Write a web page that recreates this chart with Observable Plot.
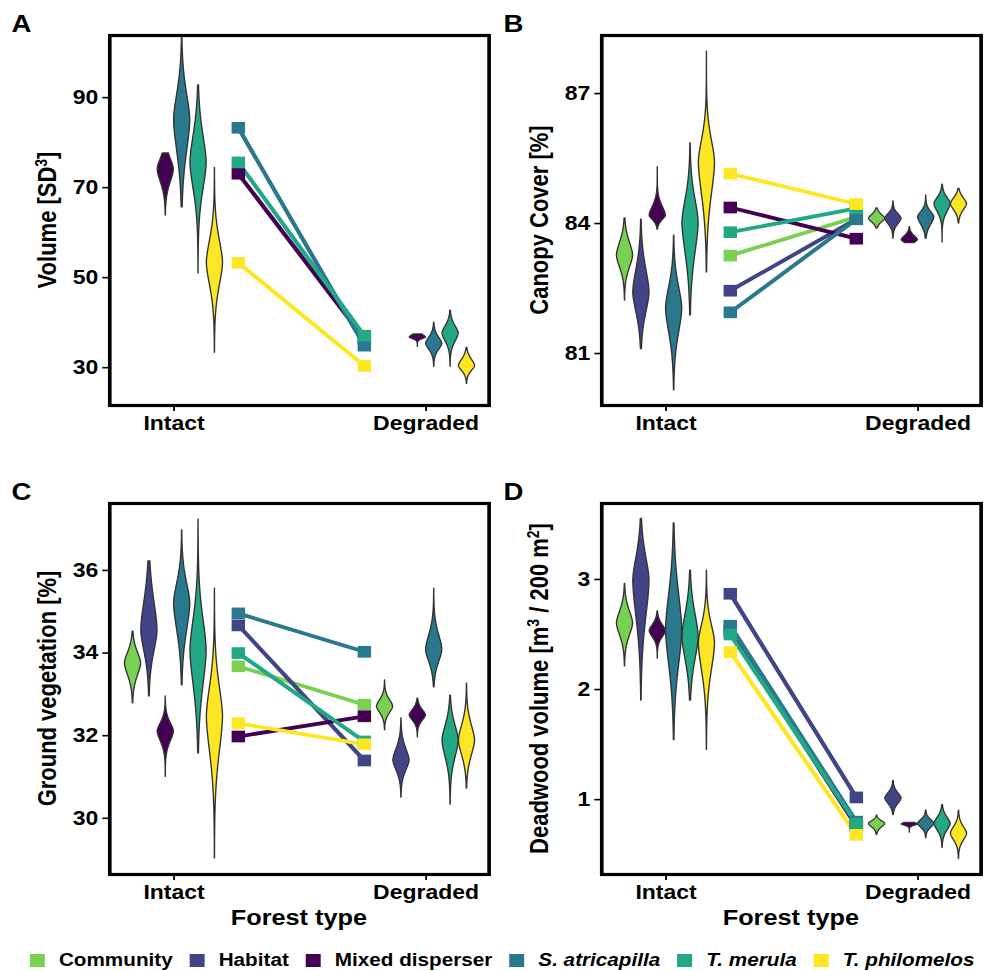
<!DOCTYPE html>
<html>
<head>
<meta charset="utf-8">
<script src="https://cdn.jsdelivr.net/npm/d3@7"></script>
<script src="https://cdn.jsdelivr.net/npm/@observablehq/plot@0.6"></script>
<style>
  html, body { margin: 0; padding: 0; background: #fff; }
  #figure {
    position: relative; width: 856px; height: 971px;
    transform: scaleX(1.1495); transform-origin: 0 0;
    font-family: "Liberation Sans", Arial, sans-serif; color: #000;
  }
  .panel { position: absolute; }
  #legend {
    position: absolute; left: 9px; top: 951px; width: 856px; height: 18px;
    display: flex; justify-content: center; align-items: center;
    font-weight: bold; font-size: 18px; line-height: 18px;
  }
  .item { display: flex; align-items: center; margin: 0 7.5px; white-space: nowrap; }
  .key { width: 13px; height: 13px; margin-right: 12px; }
  .it { font-style: italic; }
</style>
</head>
<body>
<div id="figure"></div>
<script>
// Groups, in legend and dodge order
const groups = ["Community", "Habitat", "Mixed disperser", "S. atricapilla", "T. merula", "T. philomelos"];
const italicGroups = ["S. atricapilla", "T. merula", "T. philomelos"];
const forestTypes = ["Intact", "Degraded"];
const palette = ["#7AD151", "#414487", "#440154", "#2A788E", "#22A884", "#FDE725"];

// Group means per forest type (null = group not modelled for that response)
const volumeMeanIntact     = [null, null, 73.1, 83.3, 75.6, 53.3];
const volumeMeanDegraded   = [null, null, 36.4, 34.9, 37.1, 30.4];
const canopyMeanIntact     = [83.26, 82.45, 84.37, 81.95, 83.8, 85.15];
const canopyMeanDegraded   = [84.15, 84.1, 83.65, 84.1, 84.35, 84.45];
const groundMeanIntact     = [33.68, 34.67, 31.98, 34.96, 34.0, 32.3];
const groundMeanDegraded   = [32.75, 31.4, 32.47, 34.03, 31.86, 31.79];
const deadwoodMeanIntact   = [2.57, 2.87, 2.53, 2.58, 2.5, 2.34];
const deadwoodMeanDegraded = [0.78, 1.02, 0.76, 0.8, 0.78, 0.68];

// Distribution summaries per group: [min, lower body edge, mode, upper body edge, max]
const volumeDistIntact = [null, null,
  [63.8, 67.0, 74.0, 80.0, 77.6],
  [65.6, 67.8, 85.0, 99.3, 103.6],
  [50.9, 61.0, 75.5, 90.5, 92.7],
  [33.3, 40.9, 53.3, 65.6, 74.4]];
const volumeDistDegraded = [null, null,
  [34.6, 35.8, 36.7, 38.2, 37.4],
  [30.2, 32.0, 35.3, 38.7, 40.0],
  [30.2, 33.1, 37.6, 41.6, 42.7],
  [26.4, 27.6, 30.4, 33.8, 34.4]];
const canopyDistIntact = [
  [82.22, 82.57, 83.26, 84.0, 84.12],
  [81.1, 81.25, 82.41, 83.72, 84.09],
  [83.86, 83.93, 84.18, 84.7, 85.3],
  [80.15, 80.65, 82.04, 83.26, 83.72],
  [81.88, 82.27, 84.02, 85.34, 85.85],
  [82.87, 83.56, 85.41, 86.68, 87.97]];
const canopyDistDegraded = [
  [83.88, 83.9, 84.11, 84.33, 84.35],
  [83.65, 83.8, 84.11, 84.38, 84.51],
  [83.55, 83.45, 83.62, 83.84, 83.92],
  [83.65, 83.72, 84.14, 84.45, 84.65],
  [83.56, 84.0, 84.45, 84.8, 84.9],
  [84.0, 84.1, 84.45, 84.77, 84.8]];
const groundDistIntact = [
  [32.78, 33.02, 33.75, 34.4, 34.52],
  [32.95, 33.26, 34.55, 36.3, 36.22],
  [31.0, 31.5, 32.1, 32.61, 32.95],
  [33.22, 33.58, 35.2, 36.41, 36.97],
  [31.57, 31.98, 34.06, 35.93, 37.23],
  [29.03, 30.36, 32.46, 34.23, 35.56]];
const groundDistDegraded = [
  [32.13, 32.32, 32.7, 33.1, 33.34],
  [30.5, 30.8, 31.4, 32.08, 32.42],
  [31.96, 32.17, 32.49, 32.82, 32.9],
  [33.17, 33.34, 34.08, 34.96, 35.56],
  [30.33, 30.87, 31.88, 32.78, 32.97],
  [30.72, 31.0, 31.88, 32.78, 33.26]];
const deadwoodDistIntact = [
  [2.21, 2.33, 2.6, 2.87, 2.96],
  [1.9, 2.17, 2.99, 3.51, 3.55],
  [2.28, 2.39, 2.53, 2.67, 2.71],
  [1.54, 1.75, 2.54, 3.35, 3.51],
  [1.9, 1.96, 2.48, 2.99, 3.08],
  [1.45, 1.81, 2.42, 2.83, 3.08]];
const deadwoodDistDegraded = [
  [0.68, 0.7, 0.78, 0.84, 0.855],
  [0.86, 0.89, 1.01, 1.13, 1.17],
  [0.70, 0.745, 0.775, 0.81, 0.79],
  [0.65, 0.69, 0.78, 0.87, 0.9],
  [0.56, 0.63, 0.78, 0.92, 0.95],
  [0.46, 0.54, 0.69, 0.84, 0.9]];

// Axis ticks per response
const volumeTicks = [30, 50, 70, 90];
const canopyTicks = [81, 84, 87];
const groundTicks = [30, 32, 34, 36];
const deadwoodTicks = [1, 2, 3];

// Layout
const PANEL_W = 428;
const X_DOMAIN = [0.745, 2.25];
const DODGE = 0.065;       // spacing between dodged violins (x units)
const HALF_W = 0.032;      // violin half width at its widest (x units)
const PEAK = 1.7;          // profile exponent of the violin outline
const MEAN_X = [1.255, 1.755];
const FONT = "Liberation Sans, Arial, sans-serif";

const panels = [
  {letter: "A", title: "Volume [SD^3]", ticks: volumeTicks, domain: [21.6, 103.8],
   means: [volumeMeanIntact, volumeMeanDegraded], dists: [volumeDistIntact, volumeDistDegraded],
   left: 0, top: 0, height: 460, mTop: 35, mBottom: 55, xTitle: false, letterY: 32},
  {letter: "B", title: "Canopy Cover [%]", ticks: canopyTicks, domain: [79.8, 88.34],
   means: [canopyMeanIntact, canopyMeanDegraded], dists: [canopyDistIntact, canopyDistDegraded],
   left: PANEL_W, top: 0, height: 460, mTop: 35, mBottom: 55, xTitle: false, letterY: 32},
  {letter: "C", title: "Ground vegetation [%]", ticks: groundTicks, domain: [28.64, 37.62],
   means: [groundMeanIntact, groundMeanDegraded], dists: [groundDistIntact, groundDistDegraded],
   left: 0, top: 460, height: 475, mTop: 43, mBottom: 61, xTitle: true, letterY: 40},
  {letter: "D", title: "Deadwood volume [m^3 / 200 m^2]", ticks: deadwoodTicks, domain: [0.32, 3.69],
   means: [deadwoodMeanIntact, deadwoodMeanDegraded], dists: [deadwoodDistIntact, deadwoodDistDegraded],
   left: PANEL_W, top: 460, height: 475, mTop: 43, mBottom: 61, xTitle: true, letterY: 40}
];

// Outline of one violin: a peaked density profile between the tails
function violinRows(dist, typeIndex) {
  const rows = [];
  dist.forEach((s, g) => {
    if (!s) return;
    const [min, lo, mode, hi, max] = s;
    const xc = typeIndex + 1 + (g - 2.5) * DODGE;
    const id = typeIndex + "-" + g;
    const n = 120;
    const ys = d3.range(n + 1).map(i => min + (max - min) * i / n);
    if (mode > min && mode < max) ys.push(mode);
    ys.sort((a, b) => a - b);
    for (const y of ys) {
      const z = y >= mode ? (y - mode) / (hi - mode) : (mode - y) / (mode - lo);
      const hw = HALF_W * Math.exp(-Math.LN10 * Math.pow(Math.max(z, 0), PEAK));
      rows.push({id, group: groups[g], y, x1: xc - hw, x2: xc + hw});
    }
  });
  return rows;
}

function meanRows(intact, degraded) {
  const rows = [];
  groups.forEach((g, i) => {
    if (intact[i] == null) return;
    rows.push({group: g, x: MEAN_X[0], y: intact[i]});
    rows.push({group: g, x: MEAN_X[1], y: degraded[i]});
  });
  return rows;
}

const figure = document.getElementById("figure");

for (const p of panels) {
  const violins = [...violinRows(p.dists[0], 0), ...violinRows(p.dists[1], 1)];
  const means = meanRows(p.means[0], p.means[1]);

  const svg = Plot.plot({
    width: PANEL_W,
    height: p.height,
    marginLeft: 95,
    marginRight: 3,
    marginTop: p.mTop,
    marginBottom: p.mBottom,
    x: {domain: X_DOMAIN},
    y: {domain: p.domain},
    color: {domain: groups, range: palette},
    style: {fontFamily: FONT, fontWeight: "bold", fontSize: "20px", color: "#000",
            background: "transparent", overflow: "visible"},
    marks: [
      Plot.areaX(violins, {y: "y", x1: "x1", x2: "x2", z: "id", fill: "group",
                           stroke: "#333", strokeWidth: 1.2}),
      Plot.line(means, {x: "x", y: "y", z: "group", stroke: "group", strokeWidth: 3.8}),
      Plot.dot(means, {x: "x", y: "y", fill: "group", symbol: "square", r: 6.6}),
      Plot.axisY({ticks: p.ticks, tickFormat: d => String(d), tickSize: 6, tickPadding: 4,
                  label: null, strokeWidth: 1.6}),
      Plot.axisX({ticks: [1, 2], tickFormat: d => forestTypes[d - 1], tickSize: 6, tickPadding: 4,
                  label: null, strokeWidth: 1.6}),
      Plot.frame({stroke: "#000", strokeWidth: 3.2})
    ]
  });

  const s = d3.select(svg);
  const frameMid = (p.mTop + (p.height - p.mBottom)) / 2;

  // panel letter
  s.append("text")
    .attr("x", 10).attr("y", p.letterY)
    .attr("text-anchor", "start").attr("font-size", 24).attr("font-weight", "bold")
    .attr("fill", "#000")
    .text(p.letter);

  // y-axis title, "^d" marks a superscript digit
  const t = s.append("text")
    .attr("transform", `translate(48.5,${frameMid}) rotate(-90)`)
    .attr("text-anchor", "middle").attr("font-size", 22).attr("font-weight", "bold")
    .attr("fill", "#000");
  p.title.split(/(\^\d)/).filter(d => d).forEach(part => {
    if (part.startsWith("^")) {
      t.append("tspan").attr("baseline-shift", "super").attr("font-size", 14).text(part.slice(1));
    } else {
      t.append("tspan").text(part);
    }
  });

  if (p.xTitle) {
    s.append("text")
      .attr("x", (95 + PANEL_W - 3) / 2).attr("y", 465)
      .attr("text-anchor", "middle").attr("font-size", 22).attr("font-weight", "bold")
      .attr("fill", "#000")
      .text("Forest type");
  }

  const holder = document.createElement("div");
  holder.className = "panel";
  holder.style.left = p.left + "px";
  holder.style.top = p.top + "px";
  holder.appendChild(svg);
  figure.appendChild(holder);
}

// legend
const legend = document.createElement("div");
legend.id = "legend";
groups.forEach((g, i) => {
  const item = document.createElement("div");
  item.className = "item";
  const key = document.createElement("span");
  key.className = "key";
  key.style.background = palette[i];
  const label = document.createElement("span");
  label.textContent = g;
  if (italicGroups.includes(g)) label.className = "it";
  item.appendChild(key);
  item.appendChild(label);
  legend.appendChild(item);
});
figure.appendChild(legend);
</script>
</body>
</html>
